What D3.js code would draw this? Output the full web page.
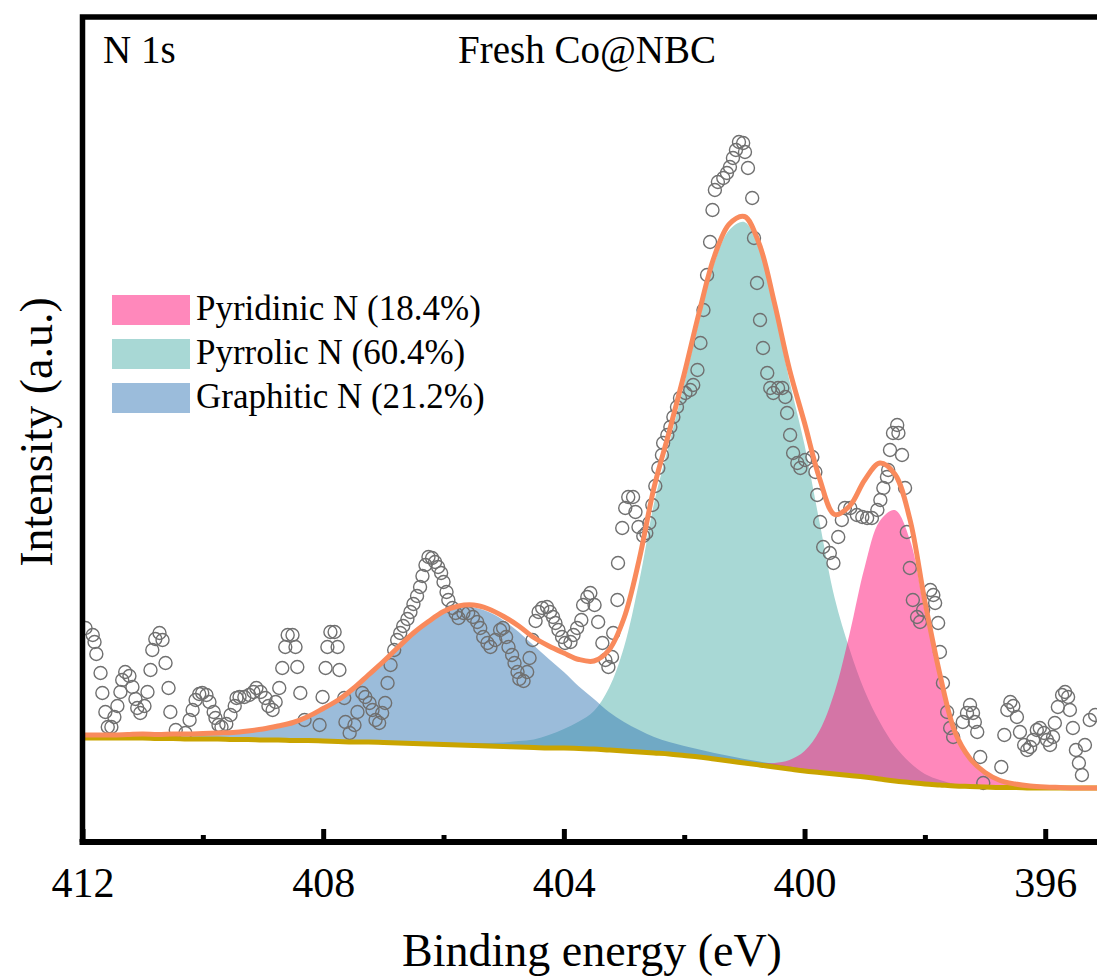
<!DOCTYPE html>
<html><head><meta charset="utf-8">
<script src="https://cdn.jsdelivr.net/npm/d3@7"></script>
<style>
body{margin:0;background:#fff}
svg{display:block}
text{font-family:"Liberation Serif","Times New Roman",serif;fill:#000}
</style>
</head><body>
<svg id="c" width="1097" height="979"></svg>
<script>
// ---------- data ----------
const xMajorTicks = [412, 408, 404, 400, 396];
const xMinorTicks = [410, 406, 402, 398];
const legendLabels = ["Pyridinic N (18.4%)", "Pyrrolic N (60.4%)", "Graphitic N (21.2%)"];

// fitted curves sampled on a common energy grid (eV)
const fitEnergy = [412,411.75,411.5,411.25,411,410.75,410.5,410.25,410,409.75,409.5,409.25,409,408.75,408.5,408.25,408,407.75,407.5,407.25,407,406.75,406.5,406.25,406,405.75,405.5,405.25,405,404.75,404.5,404.25,404,403.75,403.5,403.25,403,402.75,402.5,402.25,402,401.75,401.5,401.25,401,400.75,400.5,400.25,400,399.75,399.5,399.25,399,398.75,398.5,398.25,398,397.75,397.5,397.25,397,396.75,396.5,396.25,396,395.75,395.5,395.25,395];
const background = [104,104,104,104,104,103.5,103.5,103,103,103,102.5,102.5,102,102,101.5,101.5,101,100.5,100,100,99.5,99,98.5,98,97.5,97,96.5,96,95.5,95,94.5,94,94,93.5,93,92,91,90,89,88,86.5,85,83,81,79,77,75,73,71,69.5,68,66.5,65,63,61,59.5,58,57,56,55.5,55,54.5,54.5,54,54,54,54,54,54];
const graphiticN = [3,3,3,3.5,4,4,4.5,5,5.5,6,7,8.5,11,14,18,24,32,41,53,66,80,95,109,121,131,137,138,134,126,115,102,89,76,62,50,38,29,22,16,12,9.5,7.5,6,5,4,3.5,3,2.5,2,2,1.5,1.5,1,1,1,0.5,0.5,0.5,0,0,0,0,0,0,0,0,0,0,0];
const pyrrolicN = [0,0,0,0,0,0,0,0,0,0,0,0,0,0,0,0,0.5,0.5,0.5,1,1,1,1.5,1.5,2,2,2.5,3,4,6,8,13,19,27,38,62,104,170,250,310,372,437,496,531,541,515,457,388,326,250,176,126,86,57,35,20,10,5,2,1,0.5,0,0,0,0,0,0,0,0];
const pyridinicN = [0,0,0,0,0,0,0,0,0,0,0,0,0,0,0,0,0,0,0,0,0,0,0,0,0,0,0,0,0,0,0,0,0,0,0,0,0,0,0,0,0,0.5,0.5,1,1.5,2,4,9,20,42,82,142,210,258,271,243,172,105,52,27,14,7,3.5,2,1,0.5,0,0,0];

// measured spectrum (binding energy, intensity a.u.)
const rawEnergy = [411.95,411.83,411.80,411.77,411.70,411.67,411.62,411.58,411.52,411.47,411.42,411.37,411.34,411.29,411.22,411.17,411.12,411.09,411.04,410.97,410.92,410.87,410.84,410.79,410.72,410.67,410.62,410.57,410.54,410.45,410.29,410.22,410.17,410.12,410.06,410.01,409.94,409.89,409.82,409.79,409.74,409.69,409.61,409.54,409.47,409.44,409.39,409.31,409.23,409.16,409.11,409.04,408.96,408.91,408.84,408.79,408.73,408.68,408.63,408.59,408.51,408.46,408.43,408.38,408.31,408.06,408.01,407.96,407.93,407.88,407.81,407.76,407.73,407.65,407.63,407.56,407.48,407.43,407.35,407.30,407.23,407.18,407.13,407.07,407.02,406.97,406.93,406.88,406.82,406.77,406.72,406.67,406.60,406.55,406.50,406.44,406.39,406.35,406.30,406.25,406.19,406.14,406.09,406.04,406.00,405.95,405.92,405.85,405.80,405.75,405.67,405.59,405.51,405.44,405.39,405.34,405.27,405.22,405.14,405.06,405.01,404.96,404.92,404.86,404.82,404.77,404.74,404.67,404.61,404.57,404.52,404.47,404.42,404.36,404.28,404.23,404.18,404.14,404.09,404.03,403.98,403.89,403.84,403.78,403.71,403.68,403.61,403.56,403.49,403.43,403.36,403.31,403.26,403.20,403.18,403.11,403.10,403.03,402.98,402.93,402.85,402.81,402.76,402.68,402.63,402.58,402.53,402.48,402.43,402.37,402.35,402.28,402.23,402.18,402.12,402.07,401.98,401.90,401.85,401.78,401.73,401.68,401.62,401.57,401.53,401.49,401.44,401.35,401.29,401.24,401.19,401.14,401.09,401.02,400.99,400.94,400.87,400.84,400.79,400.74,400.69,400.62,400.57,400.52,400.44,400.37,400.32,400.29,400.24,400.19,400.12,400.07,399.99,399.87,399.82,399.79,399.74,399.69,399.58,399.52,399.44,399.38,399.33,399.24,399.13,399.04,398.96,398.88,398.79,398.74,398.69,398.63,398.61,398.58,398.53,398.46,398.44,398.38,398.33,398.30,398.25,398.20,398.13,398.08,398.03,397.91,397.86,397.83,397.78,397.75,397.70,397.63,397.58,397.53,397.37,397.30,397.25,397.20,397.17,397.13,397.08,397.03,396.73,396.68,396.63,396.58,396.53,396.47,396.42,396.35,396.30,396.25,396.20,396.14,396.09,396.02,395.97,395.92,395.87,395.84,395.79,395.72,395.67,395.62,395.59,395.54,395.49,395.44,395.39,395.34,395.26,395.17];
const rawIntensity = [214,207,200,188,169,149,130,115,115,125,136,150,162,170,166,155,143,134,129,136,150,172,192,203,209,202,179,154,130,112,109,122,132,142,148,149,147,140,130,124,117,115,118,127,136,144,145,145,147,150,154,150,144,136,132,140,154,174,195,207,207,195,175,149,122,117,145,174,195,210,210,195,172,144,120,109,117,130,149,145,139,132,122,119,129,139,159,177,192,202,209,216,223,230,238,246,255,266,277,285,284,280,275,269,260,250,242,234,229,224,229,229,225,220,214,205,199,195,202,212,214,205,195,187,179,170,163,161,170,184,202,221,230,234,235,230,225,219,212,205,199,200,207,214,222,237,245,249,237,220,199,182,175,185,209,242,279,314,334,345,345,330,315,306,309,319,337,356,374,387,399,407,415,425,435,444,449,452,457,472,499,532,567,600,632,652,660,664,669,675,684,692,700,699,690,674,644,604,559,522,494,469,454,449,454,454,445,429,407,389,379,374,382,385,370,347,320,295,289,279,305,322,334,334,327,325,324,324,332,342,354,365,372,392,409,417,409,387,354,310,274,242,225,220,232,252,247,239,219,190,159,130,114,105,120,129,137,129,120,110,85,59,75,107,132,140,136,125,110,97,92,95,102,112,114,109,102,97,105,119,135,147,150,145,132,114,92,79,67,97,122,127];

// ---------- chart ----------
const svg = d3.select("#c");
const L = 82.5, T = 17, B = 842, Rr = 1105.4;
const x = d3.scaleLinear().domain([412, 395]).range([L, Rr]);
const y = d3.scaleLinear().domain([0, 824]).range([B, T + 1]);

svg.append("defs").append("clipPath").attr("id", "clip")
  .append("rect").attr("x", L).attr("y", T).attr("width", Rr - L).attr("height", B - T);

const plot = svg.append("g").attr("clip-path", "url(#clip)");

const fit = fitEnergy.map((e, i) => ({
  e, bg: background[i], g: graphiticN[i], t: pyrrolicN[i], p: pyridinicN[i]
}));

const areaFor = key => d3.area()
  .x(d => x(d.e)).y0(d => y(d.bg)).y1(d => y(d.bg + d[key]))
  .curve(d3.curveCatmullRom);

// components
plot.append("path").datum(fit).attr("d", areaFor("t")).attr("fill", "#a8d8d5");
plot.append("path").datum(fit).attr("d", areaFor("g")).attr("fill", "rgb(55,121,181)").attr("fill-opacity", 0.5);
plot.append("path").datum(fit).attr("d", areaFor("p")).attr("fill", "rgb(255,17,119)").attr("fill-opacity", 0.5);

// raw data
const raw = rawEnergy.map((e, i) => ({ e, v: rawIntensity[i] }));
plot.append("g").selectAll("circle").data(raw).join("circle")
  .attr("cx", d => x(d.e)).attr("cy", d => y(d.v)).attr("r", 6.5)
  .attr("fill", "none").attr("stroke", "#707070").attr("stroke-width", 1.4);

// background
plot.append("path").datum(fit)
  .attr("d", d3.line().x(d => x(d.e)).y(d => y(d.bg)).curve(d3.curveCatmullRom))
  .attr("fill", "none").attr("stroke", "#c9a400").attr("stroke-width", 5);

// envelope
plot.append("path").datum(fit)
  .attr("d", d3.line().x(d => x(d.e)).y(d => y(d.bg + d.g + d.t + d.p)).curve(d3.curveCatmullRom))
  .attr("fill", "none").attr("stroke", "#f98a5c").attr("stroke-width", 5).attr("stroke-linejoin", "round");

// frame (left + top)
svg.append("path")
  .attr("d", `M${L},${B} V${T} H${Rr + 10}`)
  .attr("fill", "none").attr("stroke", "#000").attr("stroke-width", 5.5);

// x axis
const ax = svg.append("g").attr("transform", `translate(0,${B})`)
  .call(d3.axisBottom(x).tickValues(xMajorTicks).tickSize(-13).tickSizeOuter(0).tickPadding(25).tickFormat(d3.format("d")));
ax.attr("font-family", null);
ax.select(".domain").attr("stroke", "#000").attr("stroke-width", 6).attr("d", `M${L - 3},0H${Rr + 10}`);
ax.selectAll(".tick line").attr("stroke", "#000").attr("stroke-width", 5);
ax.selectAll(".tick text").attr("font-size", 42).attr("fill", "#000");

const axm = svg.append("g").attr("transform", `translate(0,${B})`)
  .call(d3.axisBottom(x).tickValues(xMinorTicks).tickSize(-7).tickSizeOuter(0).tickFormat(""));
axm.select(".domain").remove();
axm.selectAll(".tick line").attr("stroke", "#000").attr("stroke-width", 5);

// axis titles
svg.append("text").attr("x", 592).attr("y", 966).attr("text-anchor", "middle")
  .attr("font-size", 46).text("Binding energy (eV)");
svg.append("text").attr("transform", "translate(52,432) rotate(-90)").attr("text-anchor", "middle")
  .attr("font-size", 46).text("Intensity (a.u.)");

// annotations
svg.append("text").attr("x", 103).attr("y", 63).attr("font-size", 39).text("N 1s");
svg.append("text").attr("x", 458).attr("y", 63).attr("font-size", 39).text("Fresh Co@NBC");

// legend
const legendColors = ["#ff88bb", "#a8d8d5", "#9bbcdb"];
const lg = svg.append("g");
legendLabels.forEach((lab, i) => {
  lg.append("rect").attr("x", 112).attr("y", 295 + i * 44).attr("width", 78).attr("height", 30).attr("fill", legendColors[i]);
  lg.append("text").attr("x", 196).attr("y", 320 + i * 44).attr("font-size", 35).text(lab);
});
</script>
</body></html>
